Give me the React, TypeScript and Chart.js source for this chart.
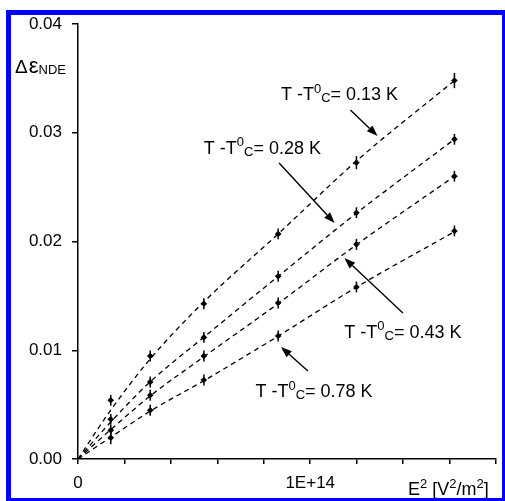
import React, { useEffect, useRef } from "react";
import { Chart, registerables } from "chart.js";
Chart.register(...registerables);

// E^2 values [V^2/m^2] of the measured points
const E2 = [1.41e13, 3.11e13, 5.42e13, 8.62e13, 1.199e14, 1.621e14];
// fit curves start at the origin
const FIT_X = [0, 1.41e13, 3.11e13, 5.42e13, 8.62e13, 1.199e14, 1.621e14];

const SERIES_LABELS = ["0.13", "0.28", "0.43", "0.78"];

const d013 = [0.0054, 0.00947, 0.01428, 0.0207, 0.02725, 0.0348];
const d028 = [0.00365, 0.00708, 0.01118, 0.0168, 0.02265, 0.0294];
const d043 = [0.00264, 0.00586, 0.00947, 0.01434, 0.01974, 0.026];
const d078 = [0.00196, 0.00448, 0.00726, 0.01131, 0.01582, 0.02097];

const err013 = [0.0005, 0.0005, 0.0005, 0.0005, 0.0006, 0.0007];
const err028 = [0.0005, 0.0005, 0.0005, 0.0005, 0.0005, 0.0005];
const err043 = [0.0005, 0.0005, 0.0005, 0.0005, 0.0005, 0.0005];
const err078 = [0.0006, 0.0005, 0.0005, 0.0005, 0.0005, 0.0005];

const fit013 = [0, 0.0045, 0.0092, 0.01445, 0.0207, 0.0274, 0.0348];
const fit028 = [0, 0.0034, 0.0071, 0.0112, 0.0168, 0.0226, 0.0294];
const fit043 = [0, 0.0027, 0.0058, 0.0094, 0.0143, 0.0197, 0.026];
const fit078 = [0, 0.002, 0.0044, 0.0072, 0.0113, 0.0158, 0.0209];

const X_TICK_LABELS: [number, string][] = [
  [0, "0"],
  [1e14, "1E+14"],
];

// annotation positions in data units
const annoTextX = [8.74e13, 5.42e13, 1.147e14, 7.64e13];
const annoTextY = [0.033, 0.02805, 0.01113, 0.0057];
const arrowFromX = [1.173e14, 8.66e13, 1.399e14, 9.9e13];
const arrowFromY = [0.0321, 0.02722, 0.01343, 0.00809];
const arrowToX = [1.29e14, 1.105e14, 1.147e14, 8.74e13];
const arrowToY = [0.0297, 0.0217, 0.01848, 0.0103];

const FONT = '"Liberation Sans", Arial, Helvetica, sans-serif';

const pointSets = [
  { d: d013, e: err013 },
  { d: d028, e: err028 },
  { d: d043, e: err043 },
  { d: d078, e: err078 },
];
const fitSets = [fit013, fit028, fit043, fit078];

type Part = { t: string; s: number; dy: number; gap?: number };

function drawRich(ctx: CanvasRenderingContext2D, parts: Part[], x: number, y: number) {
  let cx = x;
  for (const p of parts) {
    ctx.font = `${p.s}px ${FONT}`;
    ctx.fillText(p.t, cx, y + p.dy);
    cx += ctx.measureText(p.t).width + (p.gap || 0);
  }
}

function arrow(ctx: CanvasRenderingContext2D, x1: number, y1: number, x2: number, y2: number) {
  const ang = Math.atan2(y2 - y1, x2 - x1);
  const hl = 11, hw = 4;
  const bx = x2 - hl * Math.cos(ang);
  const by = y2 - hl * Math.sin(ang);
  ctx.beginPath();
  ctx.moveTo(x1, y1);
  ctx.lineTo(bx, by);
  ctx.lineWidth = 1.4;
  ctx.stroke();
  ctx.beginPath();
  ctx.moveTo(x2, y2);
  ctx.lineTo(bx + hw * Math.sin(ang), by - hw * Math.cos(ang));
  ctx.lineTo(bx - hw * Math.sin(ang), by + hw * Math.cos(ang));
  ctx.closePath();
  ctx.fill();
}

const overlayPlugin = {
  id: "overlay",
  afterDatasetsDraw(chart: any) {
    const ctx: CanvasRenderingContext2D = chart.ctx;
    const xs = chart.scales.x;
    const ys = chart.scales.y;
    ctx.save();
    ctx.strokeStyle = "#000";
    ctx.fillStyle = "#000";
    // error bars
    ctx.lineWidth = 1.5;
    pointSets.forEach((ps) => {
      ps.d.forEach((v, i) => {
        const px = xs.getPixelForValue(E2[i]);
        ctx.beginPath();
        ctx.moveTo(px, ys.getPixelForValue(v - ps.e[i]));
        ctx.lineTo(px, ys.getPixelForValue(v + ps.e[i]));
        ctx.stroke();
      });
    });
    // annotations
    ctx.textBaseline = "alphabetic";
    ctx.textAlign = "left";
    SERIES_LABELS.forEach((lab, i) => {
      const tx = xs.getPixelForValue(annoTextX[i]);
      const ty = ys.getPixelForValue(annoTextY[i]);
      drawRich(
        ctx,
        [
          { t: "T -T", s: 18, dy: 0 },
          { t: "0", s: 13, dy: -7.5 },
          { t: "C", s: 13, dy: 2 },
          { t: "= " + lab + " K", s: 18, dy: 0 },
        ],
        tx,
        ty
      );
      arrow(
        ctx,
        xs.getPixelForValue(arrowFromX[i]),
        ys.getPixelForValue(arrowFromY[i]),
        xs.getPixelForValue(arrowToX[i]),
        ys.getPixelForValue(arrowToY[i])
      );
    });
    ctx.restore();
  },
  afterDraw(chart: any) {
    const ctx: CanvasRenderingContext2D = chart.ctx;
    const ca = chart.chartArea;
    ctx.save();
    ctx.fillStyle = "#000";
    ctx.textBaseline = "alphabetic";
    ctx.textAlign = "left";
    // y axis title
    drawRich(
      ctx,
      [
        { t: "Δ", s: 19, dy: 0, gap: 1 },
        { t: "ε", s: 22, dy: 0 },
        { t: "NDE", s: 13, dy: 1 },
      ],
      15,
      ca.top + 49
    );
    // x axis title
    drawRich(
      ctx,
      [
        { t: "E", s: 18, dy: 0 },
        { t: "2", s: 13, dy: -7 },
        { t: " [V", s: 18, dy: 0 },
        { t: "2", s: 13, dy: -7 },
        { t: "/m", s: 18, dy: 0 },
        { t: "2", s: 13, dy: -7 },
        { t: "]", s: 18, dy: 0 },
      ],
      ca.right - 88,
      chart.height - 6
    );
    // blue frame
    ctx.strokeStyle = "#0000ff";
    ctx.lineWidth = 5;
    ctx.strokeRect(8.5, 12.5, 496, 488);
    ctx.restore();
  },
};

export default function App() {
  const ref = useRef<HTMLCanvasElement | null>(null);
  useEffect(() => {
    document.body.style.margin = "0";
    const canvas = ref.current!;
    const datasets: any[] = [];
    fitSets.forEach((f) => {
      datasets.push({
        type: "line",
        data: FIT_X.map((x, i) => ({ x, y: f[i] })),
        borderColor: "#000",
        borderWidth: 1.3,
        borderDash: [5, 4],
        pointRadius: 0,
        fill: false,
        cubicInterpolationMode: "monotone",
      });
    });
    pointSets.forEach((ps) => {
      datasets.push({
        type: "scatter",
        data: E2.map((x, i) => ({ x, y: ps.d[i] })),
        pointStyle: "rectRot",
        pointRadius: 3.3,
        backgroundColor: "#000",
        borderColor: "#000",
        borderWidth: 0,
        showLine: false,
      });
    });
    const chart = new Chart(canvas, {
      type: "scatter",
      data: { datasets },
      options: {
        animation: false,
        responsive: false,
        events: [],
        layout: { padding: { top: 24, right: 5, left: 0, bottom: 0 } },
        plugins: { legend: { display: false }, tooltip: { enabled: false } },
        scales: {
          x: {
            type: "linear",
            min: 0,
            max: 1.8e14,
            afterFit(s: any) {
              s.height = 42;
            },
            border: { color: "#000", width: 1.5 },
            grid: { drawOnChartArea: false, drawTicks: true, tickLength: 5, color: "#000", lineWidth: 1.5 },
            ticks: {
              stepSize: 2e13,
              autoSkip: false,
              maxRotation: 0,
              color: "#000",
              padding: 9,
              font: { family: FONT, size: 17 },
              callback: (v: any) => {
                for (const [tv, tl] of X_TICK_LABELS) if (Math.abs(v - tv) < 1e6) return tl;
                return "";
              },
            },
          },
          y: {
            type: "linear",
            min: 0,
            max: 0.04,
            afterFit(s: any) {
              s.width = 78;
            },
            border: { color: "#000", width: 1.5 },
            grid: { drawOnChartArea: false, drawTicks: true, tickLength: 6, color: "#000", lineWidth: 1.5 },
            ticks: {
              stepSize: 0.01,
              color: "#000",
              padding: 10,
              font: { family: FONT, size: 17 },
              callback: (v: any) => Number(v).toFixed(2),
            },
          },
        },
      },
      plugins: [overlayPlugin],
    } as any);
    return () => chart.destroy();
  }, []);
  return <canvas ref={ref} width={505} height={501} style={{ display: "block" }} />;
}
